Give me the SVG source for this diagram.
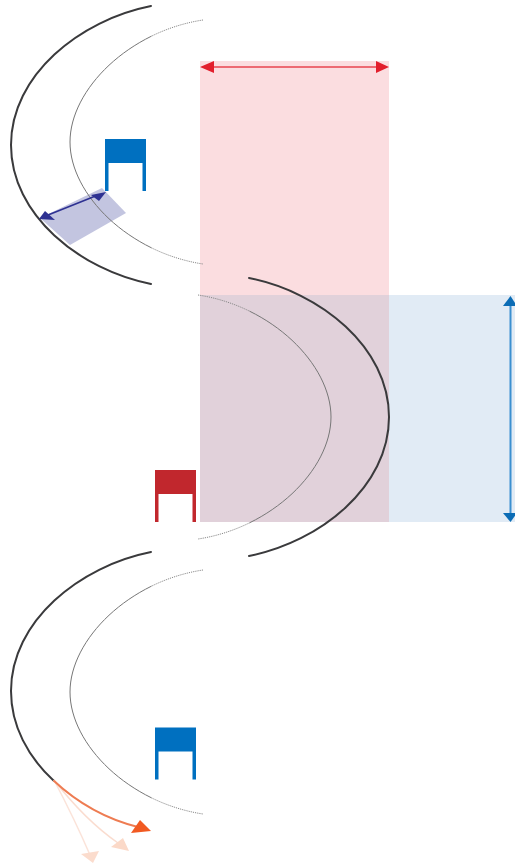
<svg xmlns="http://www.w3.org/2000/svg" xmlns:xlink="http://www.w3.org/1999/xlink" width="515" height="866" viewBox="0 0 515 866">
<style>
.outer{fill:none;stroke:#3a3a3c;stroke-width:2;stroke-linecap:round}
.inner{fill:none;stroke:#777;stroke-width:1}
.dots{fill:none;stroke:#8a8a8a;stroke-width:1;stroke-dasharray:1.2 1}
.blue{fill:#0070c0}
.red{fill:#c1272d}
</style>
<defs>
<path id="outerCurve" class="outer" d="M151 6C80 20 11 75 11 145C11 215 80 270 151 284"/>
<g id="innerCurve">
<path class="inner" d="M151.4 36.2C135.5 44 121.1 54 109 65.25C85 87.75 70 115.5 70 142C70 168.5 85 196.25 109 218.75C121.1 230 135.5 240 151.4 247.8"/>
<path class="dots" d="M203 20C184.75 22.75 167.3 28.4 151.4 36.2M151.4 247.8C167.3 255.6 184.75 261.25 203 264"/>
</g>
<path id="chair" d="M0 0H41V52H37.5V24H3.5V52H0Z"/>
</defs>
<g id="bands">
<rect id="band-red" x="200" y="61" width="189" height="234" fill="#fbdde0"/>
<rect id="band-blue" x="389" y="295" width="126" height="227" fill="#e1ebf5"/>
<rect id="band-overlap" x="200" y="295" width="189" height="227" fill="#e1d1da"/>
<polygon id="band-navy" points="102,188 126,213 70,245 40,218" fill="#c3c5e0"/>
</g>
<g id="curves">
<use xlink:href="#outerCurve" href="#outerCurve"/>
<use xlink:href="#innerCurve" href="#innerCurve"/>
<use xlink:href="#outerCurve" href="#outerCurve" transform="translate(400,272) scale(-1,1)"/>
<use xlink:href="#innerCurve" href="#innerCurve" transform="translate(401,275) scale(-1,1)"/>
<path class="outer" d="M151 552C80 566 11 621 11 691C11 726 28.25 757.25 53.5 780.5"/>
<use xlink:href="#innerCurve" href="#innerCurve" transform="translate(0,550)"/>
</g>
<g id="chair-top"><use xlink:href="#chair" href="#chair" class="blue" x="105" y="139"/></g>
<g id="chair-middle"><use xlink:href="#chair" href="#chair" class="red" x="155" y="470"/></g>
<g id="chair-bottom"><use xlink:href="#chair" href="#chair" class="blue" x="155" y="727.5"/></g>
<g id="connectors">
<g id="arrow-red">
<path d="M210 67H380" stroke="#e8434f" stroke-width="1.6" fill="none"/>
<polygon points="200,67 214,61 214,73" fill="#e21f2d"/>
<polygon points="389,67 376,61 376,73" fill="#e21f2d"/>
</g>
<g id="arrow-blue">
<path d="M510.5 304V514" stroke="#3a8fd0" stroke-width="2" fill="none"/>
<polygon points="510.5,296 503,306 517,306" fill="#0b6cb5"/>
<polygon points="510.5,522 503,513 517,513" fill="#0b6cb5"/>
</g>
<g id="arrow-navy">
<path d="M48 215L98 195" stroke="#2e3192" stroke-width="1.6" fill="none"/>
<polygon points="39,219 45,211 55,220" fill="#2e3192"/>
<polygon points="106,192 91,195 99,201" fill="#2e3192"/>
</g>
<g id="arrow-faint-2">
<path d="M54 780Q75 820 90 855" stroke="#fbe3d9" stroke-width="1.5" fill="none"/>
<polygon points="81,854 99,851 93,863" fill="#fbdccd"/>
</g>
<g id="arrow-faint-1">
<path d="M54 780Q85 820 118 843" stroke="#fadccf" stroke-width="1.5" fill="none"/>
<polygon points="123,838 129,851 111,847" fill="#fbd9c8"/>
</g>
<g id="arrow-orange">
<path d="M53.5 780.5C80.5 805.75 110 820 138 827" stroke="#ee7c52" stroke-width="2" fill="none"/>
<polygon points="151,831 140,820 131,833" fill="#f15a22"/>
</g>
</g>
</svg>
